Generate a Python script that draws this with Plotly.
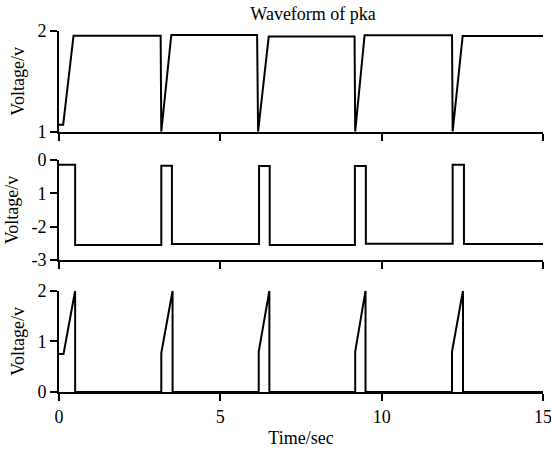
import plotly.graph_objects as go

# Panel 1 (top): waveform of pka
t1 = [0, 0.13, 0.45, 3.15, 3.17, 3.48, 6.14, 6.17, 6.50, 9.16, 9.18, 9.47, 12.18, 12.20, 12.51, 15]
v1 = [1.07, 1.07, 1.953, 1.953, 1.0, 1.96, 1.96, 1.0, 1.945, 1.945, 1.0, 1.957, 1.957, 1.0, 1.95, 1.95]

# Panel 2 (middle)
t2 = [0, 0.5, 0.5, 3.17, 3.17, 3.5, 3.5, 6.2, 6.2, 6.53, 6.53, 9.17, 9.17, 9.51, 9.51,
      12.2, 12.2, 12.55, 12.55, 15]
v2 = [-0.14, -0.14, -2.55, -2.55, -0.17, -0.17, -2.52, -2.52, -0.18, -0.18, -2.55, -2.55,
      -0.18, -0.18, -2.51, -2.51, -0.14, -0.14, -2.52, -2.52]

# Panel 3 (bottom)
t3 = [0, 0.14, 0.5, 0.5, 3.17, 3.17, 3.52, 3.52, 6.19, 6.19, 6.52, 6.52, 9.18, 9.18, 9.5, 9.5,
      12.18, 12.18, 12.52, 12.52, 15]
v3 = [0.75, 0.75, 2.0, 0, 0, 0.77, 2.0, 0, 0, 0.8, 2.0, 0, 0, 0.8, 2.0, 0, 0, 0.8, 2.0, 0, 0]

x_ticks = [0, 5, 10, 15]
x_ticktext = ["0", "5", "10", "15"]
y1_ticks = [1, 2]
y1_ticktext = ["1", "2"]
y2_ticks = [-3, -2, -1, 0]
y2_ticktext = ["-3", "-2", "1", "0"]
y3_ticks = [0, 1, 2]
y3_ticktext = ["0", "1", "2"]

FONT = "Liberation Serif, Times New Roman, serif"
line_style = dict(color="black", width=2)

fig = go.Figure()
fig.add_trace(go.Scatter(x=t1, y=v1, mode="lines", line=line_style, xaxis="x", yaxis="y", showlegend=False))
fig.add_trace(go.Scatter(x=t2, y=v2, mode="lines", line=line_style, xaxis="x2", yaxis="y2", showlegend=False))
fig.add_trace(go.Scatter(x=t3, y=v3, mode="lines", line=line_style, xaxis="x3", yaxis="y3", showlegend=False))

axis_common = dict(showline=True, linecolor="black", linewidth=2, ticks="outside", ticklen=7,
                   tickwidth=2, tickcolor="black", showgrid=False, zeroline=False,
                   ticklabeloverflow="allow", automargin=False,
                   tickfont=dict(family=FONT, size=18, color="black"))

xcommon = dict(axis_common, range=[0, 15], tickmode="array", tickvals=x_ticks, ticktext=x_ticktext)

fig.update_layout(
    width=551, height=453,
    margin=dict(l=59, r=8, t=31, b=61, autoexpand=False),
    plot_bgcolor="white", paper_bgcolor="white",
    font=dict(family=FONT, size=18, color="black"),
    title=dict(text="Waveform of pka", x=0.525, xref="paper", xanchor="center",
               y=1 - 14 / 453, yref="container", yanchor="middle",
               font=dict(family=FONT, size=18, color="black")),
    xaxis=dict(xcommon, domain=[0, 1], anchor="y", showticklabels=False),
    xaxis2=dict(xcommon, domain=[0, 1], anchor="y2", showticklabels=False),
    xaxis3=dict(xcommon, domain=[0, 1], anchor="y3", showticklabels=True,
                title=dict(text="Time/sec", standoff=6, font=dict(family=FONT, size=18))),
    yaxis=dict(axis_common, domain=[0.7211, 1.0], anchor="x", range=[1, 2], tickmode="array",
               tickvals=y1_ticks, ticktext=y1_ticktext,
               title=dict(text="Voltage/v", standoff=8, font=dict(family=FONT, size=18))),
    yaxis2=dict(axis_common, domain=[0.3657, 0.6427], anchor="x2", range=[-3, 0], tickmode="array",
                tickvals=y2_ticks, ticktext=y2_ticktext,
                title=dict(text="Voltage/v", standoff=8, font=dict(family=FONT, size=18))),
    yaxis3=dict(axis_common, domain=[0, 0.2806], anchor="x3", range=[0, 2], tickmode="array",
                tickvals=y3_ticks, ticktext=y3_ticktext,
                title=dict(text="Voltage/v", standoff=8, font=dict(family=FONT, size=18))),
)

fig.write_html("out.html")
